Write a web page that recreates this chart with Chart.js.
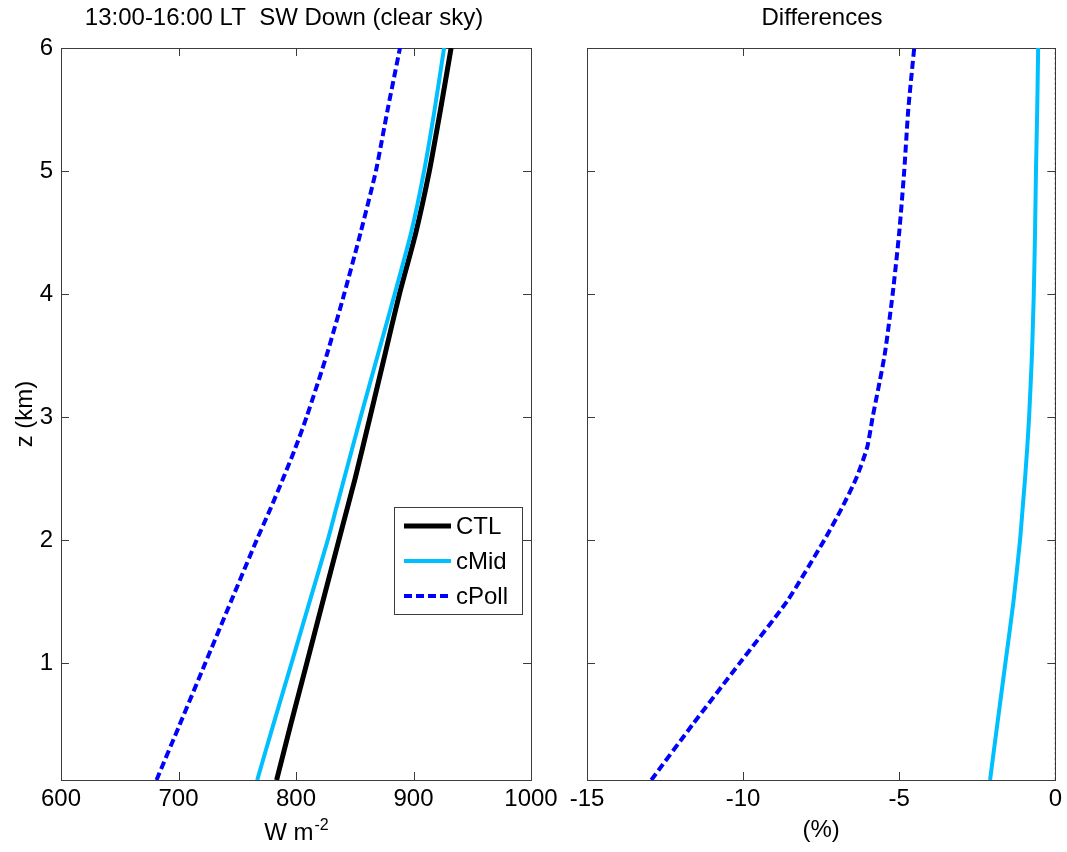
<!DOCTYPE html>
<html>
<head>
<meta charset="utf-8">
<title>SW Down profiles</title>
<script src="https://cdn.jsdelivr.net/npm/chart.js@4.4.1/dist/chart.umd.min.js"></script>
<style>
  html, body { margin: 0; padding: 0; background: #fff; }
  #wrap { position: relative; width: 1067px; height: 852px; }
  canvas { position: absolute; top: 0; }
  #swChart { left: 0; }
  #diffChart { left: 560px; }
</style>
</head>
<body>
<div id="wrap">
  <canvas id="swChart" width="563" height="852"></canvas>
  <canvas id="diffChart" width="507" height="852"></canvas>
</div>
<script>
// Heights (km) the profiles were read at
var Z_KM = [0.05, 0.5, 1, 1.5, 2, 2.25, 2.5, 2.75, 3, 3.5, 4, 4.5, 5, 5.5, 6];

// Left panel: SW down, W m-2
var SW_CTL   = [783.5, 795.5, 809.2, 822.8, 836.5, 843.4, 850.3, 856.7, 863, 875.5, 888, 902, 913.5, 923, 932];
var SW_CMID  = [767, 780.7, 796.2, 811.6, 827, 834, 841, 848, 855, 869.5, 884, 898, 909, 918, 926];
var SW_CPOLL = [681.3, 701, 722.8, 744.6, 766.5, 778, 789, 799.5, 809, 826, 841, 855, 868, 878, 888.5];

// Right panel: differences vs CTL, %
var DIFF_CTL   = [0, 0, 0, 0, 0, 0, 0, 0, 0, 0, 0, 0, 0, 0, 0];
var DIFF_CMID  = [-2.09, -1.86, -1.60, -1.34, -1.13, -1.05, -0.97, -0.90, -0.84, -0.75, -0.69, -0.65, -0.62, -0.58, -0.55];
var DIFF_CPOLL = [-12.94, -11.62, -10.11, -8.60, -7.40, -6.86, -6.38, -6.03, -5.85, -5.47, -5.21, -5.00, -4.84, -4.71, -4.52];

var Z_TICKS = [1, 2, 3, 4, 5, 6];
var SW_TICKS = [600, 700, 800, 900, 1000];
var DIFF_TICKS = [-15, -10, -5, 0];

var FONT = '"Liberation Sans", Arial, Helvetica, sans-serif';
var AXIS_COLOR = '#3c3c3c';
var FS = 24;

Chart.defaults.font.family = FONT;
Chart.defaults.font.size = FS;
Chart.defaults.color = '#000';

function profile(values) {
  return values.map(function (v, i) { return { x: v, y: Z_KM[i] }; });
}

function fixedTicks(list) {
  return function (scale) {
    scale.ticks = list.map(function (v) { return { value: v }; });
  };
}

// MATLAB-style box with inward ticks on all four sides
var matlabBox = {
  id: 'matlabBox',
  beforeDatasetsDraw: function (chart) {
    var a = chart.chartArea, ctx = chart.ctx, tl = 8;
    var xs = chart.scales.x, ys = chart.scales.y;
    ctx.save();
    ctx.strokeStyle = AXIS_COLOR;
    ctx.lineWidth = 1;
    ctx.beginPath();
    xs.ticks.forEach(function (t) {
      var px = Math.round(xs.getPixelForValue(t.value)) + 0.5;
      ctx.moveTo(px, a.bottom); ctx.lineTo(px, a.bottom - tl);
      ctx.moveTo(px, a.top); ctx.lineTo(px, a.top + tl);
    });
    ys.ticks.forEach(function (t) {
      var py = Math.round(ys.getPixelForValue(t.value)) + 0.5;
      ctx.moveTo(a.left, py); ctx.lineTo(a.left + tl, py);
      ctx.moveTo(a.right, py); ctx.lineTo(a.right - tl, py);
    });
    ctx.stroke();
    ctx.strokeRect(Math.round(a.left) + 0.5, Math.round(a.top) + 0.5,
      Math.round(a.right - a.left), Math.round(a.bottom - a.top));
    ctx.restore();
  }
};

// Panel title and (optional) x label with superscript
var panelText = {
  id: 'panelText',
  afterDraw: function (chart, args, opts) {
    var ctx = chart.ctx, a = chart.chartArea;
    ctx.save();
    ctx.fillStyle = '#000';
    ctx.textAlign = 'center';
    ctx.textBaseline = 'middle';
    ctx.font = FS + 'px ' + FONT;
    ctx.fillText(opts.title, opts.titleX, 18);
    if (opts.xBase) {
      var cx = (a.left + a.right) / 2;
      ctx.font = FS + 'px ' + FONT;
      var wBase = ctx.measureText(opts.xBase).width;
      ctx.font = Math.round(FS * 0.68) + 'px ' + FONT;
      var wSup = ctx.measureText(opts.xSup).width;
      var x0 = cx - (wBase + wSup) / 2;
      ctx.textAlign = 'left';
      ctx.textBaseline = 'alphabetic';
      ctx.font = FS + 'px ' + FONT;
      ctx.fillText(opts.xBase, x0, 840);
      ctx.font = Math.round(FS * 0.68) + 'px ' + FONT;
      ctx.fillText(opts.xSup, x0 + wBase + 1, 830);
    }
    ctx.restore();
  }
};

// Boxed legend inside the plot area (lower right)
var boxLegend = {
  id: 'boxLegend',
  afterDatasetsDraw: function (chart, args, opts) {
    if (!opts || !opts.display) return;
    var ctx = chart.ctx;
    ctx.save();
    ctx.fillStyle = '#fff';
    ctx.fillRect(opts.x, opts.y, opts.w, opts.h);
    ctx.strokeStyle = AXIS_COLOR;
    ctx.lineWidth = 1;
    ctx.strokeRect(opts.x + 0.5, opts.y + 0.5, opts.w, opts.h);
    ctx.font = opts.fontSize + 'px ' + FONT;
    ctx.textBaseline = 'middle';
    chart.data.datasets.forEach(function (ds, i) {
      var cy = opts.y + opts.firstRow + i * opts.rowH;
      ctx.beginPath();
      ctx.strokeStyle = ds.borderColor;
      ctx.lineWidth = ds.borderWidth;
      ctx.setLineDash(ds.borderDash || []);
      ctx.moveTo(opts.x + 10, cy);
      ctx.lineTo(opts.x + 57, cy);
      ctx.stroke();
      ctx.setLineDash([]);
      ctx.fillStyle = '#000';
      ctx.fillText(ds.label, opts.x + 62, cy + 1);
    });
    ctx.restore();
  }
};

function lineSet(label, values, color, width, dash, order) {
  return {
    label: label,
    data: profile(values),
    showLine: true,
    borderColor: color,
    backgroundColor: color,
    borderWidth: width,
    borderDash: dash,
    pointRadius: 0,
    pointHoverRadius: 0,
    tension: 0.2,
    order: order
  };
}

function yScale(showLabels, width) {
  return {
    type: 'linear',
    min: 0.05,
    max: 6,
    afterBuildTicks: fixedTicks(Z_TICKS),
    afterFit: function (s) { s.width = width; },
    grid: { display: false, drawTicks: false },
    border: { display: false },
    ticks: { display: showLabels, padding: 8 },
    title: {
      display: showLabels,
      text: 'z (km)',
      padding: { top: 11, bottom: 0 }
    }
  };
}

function xScale(min, max, ticks, title) {
  return {
    type: 'linear',
    position: 'bottom',
    min: min,
    max: max,
    afterBuildTicks: fixedTicks(ticks),
    afterFit: function (s) { s.height = 72; },
    grid: { display: false, drawTicks: false },
    border: { display: false },
    ticks: { padding: 5, callback: function (v) { return String(v); } },
    title: {
      display: !!title,
      text: title || '',
      padding: { top: 0, bottom: 7 }
    }
  };
}

new Chart(document.getElementById('swChart'), {
  type: 'scatter',
  data: {
    datasets: [
      lineSet('CTL', SW_CTL, '#000000', 5, [], 3),
      lineSet('cMid', SW_CMID, '#00bfff', 4, [], 2),
      lineSet('cPoll', SW_CPOLL, '#0000ff', 4, [8, 4], 1)
    ]
  },
  options: {
    responsive: false,
    animation: false,
    events: [],
    layout: { padding: { left: 0, right: 32, top: 48, bottom: 0 } },
    scales: {
      x: xScale(600, 1000, SW_TICKS, null),
      y: yScale(true, 61)
    },
    plugins: {
      legend: { display: false },
      tooltip: { enabled: false },
      panelText: { title: '13:00-16:00 LT  SW Down (clear sky)', titleX: 284, xBase: 'W m', xSup: '-2' },
      boxLegend: { display: true, x: 394, y: 507, w: 128, h: 107, firstRow: 19, rowH: 35, fontSize: FS }
    }
  },
  plugins: [matlabBox, boxLegend, panelText]
});

var zeroLine = lineSet('CTL', DIFF_CTL, '#333333', 1, [3, 2], 3);
zeroLine.clip = false;

new Chart(document.getElementById('diffChart'), {
  type: 'scatter',
  data: {
    datasets: [
      zeroLine,
      lineSet('cMid', DIFF_CMID, '#00bfff', 4, [], 2),
      lineSet('cPoll', DIFF_CPOLL, '#0000ff', 4, [8, 4], 1)
    ]
  },
  options: {
    responsive: false,
    animation: false,
    events: [],
    layout: { padding: { left: 0, right: 8, top: 48, bottom: 0 } },
    scales: {
      x: xScale(-15, 0, DIFF_TICKS, '(%)'),
      y: yScale(false, 27)
    },
    plugins: {
      legend: { display: false },
      tooltip: { enabled: false },
      panelText: { title: 'Differences', titleX: 262 }
    }
  },
  plugins: [matlabBox, panelText]
});
</script>
</body>
</html>
